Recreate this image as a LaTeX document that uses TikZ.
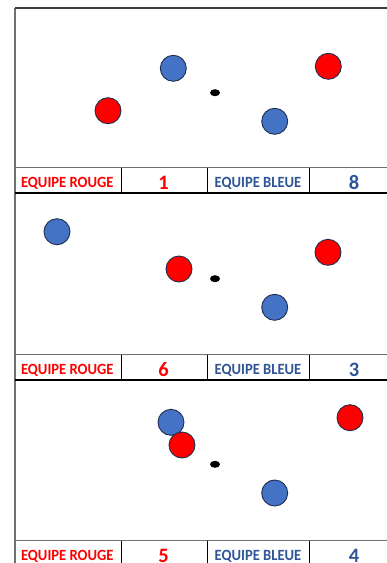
\documentclass[tikz,border=0pt]{standalone}
\usepackage{graphicx}
\usepackage{fontspec}
\setmainfont{Carlito}
\definecolor{rouge}{HTML}{FF0000}
\definecolor{bleu}{HTML}{4472C4}
\definecolor{bleutxt}{HTML}{2F5597}
\definecolor{contour}{HTML}{1F2F4F}
\definecolor{gris}{HTML}{707070}
\newcommand{\etire}[1]{\scalebox{1}[1.07]{#1}}
\tikzset{
  x=1pt, y=-1pt,
  joueur/.style={circle, draw=contour, line width=0.9pt, minimum size=26pt, inner sep=0pt},
  rougej/.style={joueur, fill=rouge},
  bleuj/.style={joueur, fill=bleu},
  cochonnet/.style={ellipse, fill=black, minimum width=10pt, minimum height=7pt, inner sep=0pt},
  txt/.style={anchor=base, inner sep=0pt},
  lblrouge/.style={txt, text=rouge, font=\bfseries\fontsize{14.6}{15}\selectfont},
  lblbleu/.style={txt, text=bleutxt, font=\bfseries\fontsize{14.6}{15}\selectfont},
  numrouge/.style={txt, text=rouge, font=\bfseries\fontsize{20.5}{21}\selectfont},
  numbleu/.style={txt, text=bleutxt, font=\bfseries\fontsize{20.5}{21}\selectfont},
  sep/.style={draw=black, line width=1pt},
  gline/.style={draw=gris, line width=1.3pt},
  bline/.style={draw=black, line width=1.8pt}
}
\usetikzlibrary{shapes.geometric}
\begin{document}
\begin{tikzpicture}
\useasboundingbox (0,0) rectangle (387,563);
\fill[white] (0,0) rectangle (387,563);
% frame
\draw[gline] (15,8) -- (15,563);
\draw[draw=black!75, line width=1.2pt] (15,8) -- (387,8);
% table rows
\foreach \t/\b in {167.5/193, 354.5/380, 540.5/566}{
  \draw[gline] (15,\t) -- (387,\t);
  \draw[bline] (15,\b) -- (387,\b);
  \draw[sep] (121,\t) -- (121,\b);
  \draw[sep] (207,\t) -- (207,\b);
  \draw[sep] (309,\t) -- (309,\b);
}
% labels row 1
\node[lblrouge] (r1) at (67.3,187) {\etire{EQUIPE ROUGE}};
\node[numrouge] (n1) at (163.5,189.5) {1};
\node[lblbleu] (b1) at (258,187) {\etire{EQUIPE BLEUE}};
\node[numbleu] (m1) at (354,189.5) {8};
% labels row 2
\node[lblrouge] (r2) at (67.3,374) {\etire{EQUIPE ROUGE}};
\node[numrouge] (n2) at (163.5,376.5) {6};
\node[lblbleu] (b2) at (258,374) {\etire{EQUIPE BLEUE}};
\node[numbleu] (m2) at (354,376.5) {3};
% labels row 3
\node[lblrouge] (r3) at (67.3,560) {\etire{EQUIPE ROUGE}};
\node[numrouge] (n3) at (163.5,562.5) {5};
\node[lblbleu] (b3) at (258,560) {\etire{EQUIPE BLEUE}};
\node[numbleu] (m3) at (354,562.5) {4};
% panel 1
\node[bleuj] (p1b1) at (173.3,68.3) {};
\node[rougej] (p1r1) at (328.3,66.3) {};
\node[rougej] (p1r2) at (108,110.7) {};
\node[bleuj] (p1b2) at (274.7,121.3) {};
\node[cochonnet] (p1c) at (215,92.7) {};
% panel 2
\node[bleuj] (p2b1) at (57,231.7) {};
\node[rougej] (p2r1) at (179,269) {};
\node[rougej] (p2r2) at (328,252.3) {};
\node[bleuj] (p2b2) at (274.7,307.3) {};
\node[cochonnet] (p2c) at (215,278.7) {};
% panel 3
\node[bleuj] (p3b1) at (171,422.3) {};
\node[rougej] (p3r1) at (182,445) {};
\node[rougej] (p3r2) at (350,417.7) {};
\node[bleuj] (p3b2) at (274.7,493) {};
\node[cochonnet] (p3c) at (215,464.3) {};
\end{tikzpicture}
\end{document}
